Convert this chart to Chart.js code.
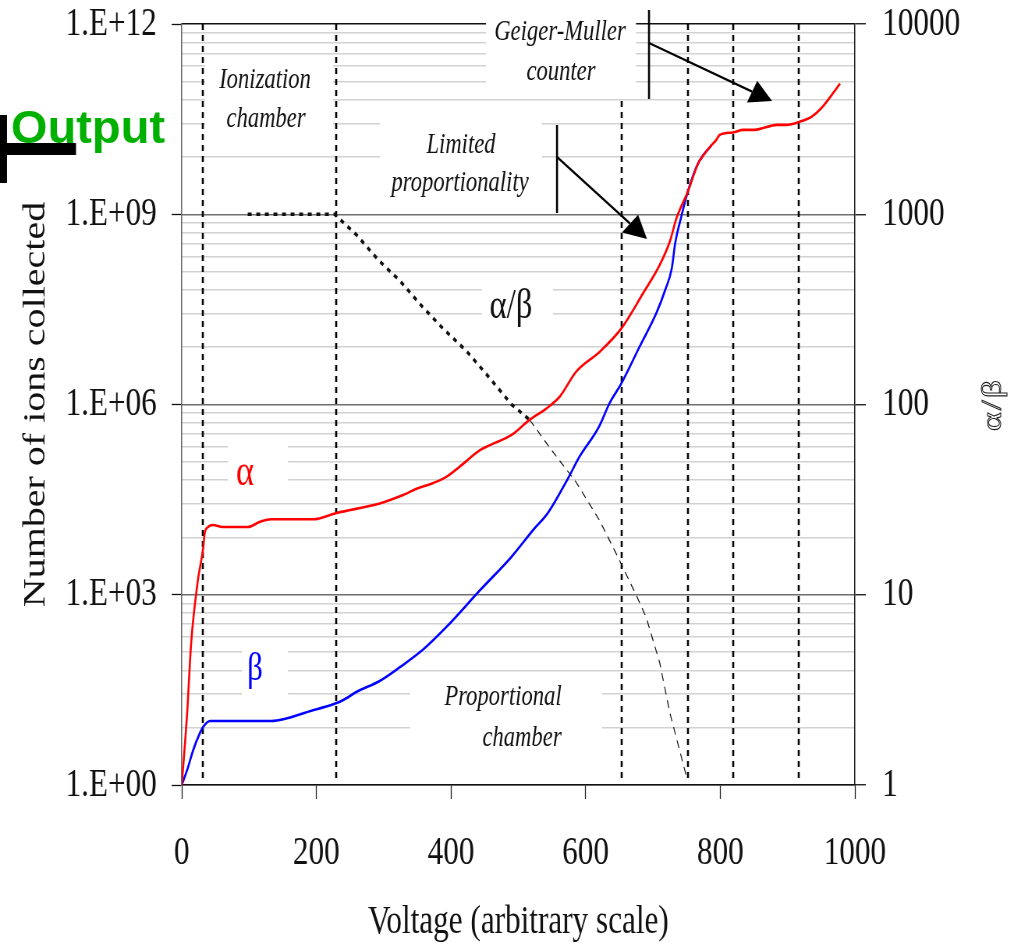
<!DOCTYPE html>
<html>
<head>
<meta charset="utf-8">
<title>Ions collected vs voltage</title>
<script src="https://cdn.jsdelivr.net/npm/chart.js@4.4.1/dist/chart.umd.min.js"></script>
<style>
  html, body { margin: 0; padding: 0; background: #fff; overflow: hidden; }
  /* the whole drawing is set in a narrow face, so the canvas is squeezed sideways */
  #holder { position: absolute; left: 0; top: 0; width: 1305px; height: 948px;
            transform: scaleX(0.78); transform-origin: 0 0; }
</style>
</head>
<body>
<div id="holder"><canvas id="chart" width="1305" height="948"></canvas></div>
<script>
'use strict';
// alpha particles: voltage vs number of ions collected
var alphaVolts = [0, 8, 14, 24, 32, 34, 39, 46, 61, 98, 116, 133, 195, 230, 294, 326, 349, 373, 393, 413,
  443, 458, 490, 517, 542, 562, 586, 621, 653, 685, 710, 725, 735, 752, 767, 777, 787, 794, 799, 819,
  834, 851, 884, 898, 918, 936, 950, 978];
var alphaIons = [1, 13.5, 174, 1700, 5600, 9300, 1.17e4, 1.26e4, 1.17e4, 1.17e4, 1.41e4, 1.55e4, 1.55e4,
  1.95e4, 2.75e4, 3.63e4, 4.68e4, 5.75e4, 7.24e4, 1.05e5, 1.91e5, 2.29e5, 3.31e5, 5.75e5, 8.7e5, 1.35e6,
  3.3e6, 6.8e6, 1.58e7, 5.6e7, 1.58e8, 3.7e8, 8.7e8, 2.3e9, 6.3e9, 9.1e9, 1.23e10, 1.48e10, 1.78e10,
  1.95e10, 2.14e10, 2.14e10, 2.57e10, 2.57e10, 2.88e10, 3.47e10, 4.68e10, 1.15e11];
// beta particles
var betaVolts = [0, 9, 17, 27, 32, 42, 133, 195, 227, 240, 260, 294, 324, 359, 393, 443, 490, 522, 544,
  574, 591, 619, 636, 653, 680, 705, 718, 728, 733, 742, 752, 767, 787];
var betaIons = [1, 1.86, 3.55, 6.6, 8.3, 10.2, 10.2, 15.1, 19.1, 21.9, 29.5, 43.7, 72, 138, 309, 1175,
  3980, 1.05e4, 1.95e4, 6.9e4, 1.51e5, 4.3e5, 1.07e6, 2.14e6, 8.1e6, 2.75e7, 6.3e7, 1.41e8, 3.5e8,
  9.1e8, 2.3e9, 6.3e9, 1.23e10];
// alpha/beta ratio, right hand axis
var ratioVolts = [98, 227, 260, 292, 324, 356, 388, 423, 455, 490, 517, 547, 586, 621, 651, 676, 690,
  710, 725, 750];
var ratioValues = [1000, 1000, 776, 575, 447, 331, 251, 191, 141, 100, 83, 59, 39, 24.5, 15, 9.8, 7.6,
  4.4, 2.4, 1.1];

var voltTicks = [0, 200, 400, 600, 800, 1000];
var voltTickLabels = ['0', '200', '400', '600', '800', '1000'];
var ionTickValues = [1, 1e3, 1e6, 1e9, 1e12];
var ionTickLabels = ['1.E+00', '1.E+03', '1.E+06', '1.E+09', '1.E+12'];
var ratioTickValues = [1, 10, 100, 1000, 10000];
var ratioTickLabels = ['1', '10', '100', '1000', '10000'];
// voltages where one operating region hands over to the next
var boundaryVolts = [31, 229, 654, 752, 819, 917];

var SQUEEZE = 0.78;
var CANVAS_W = 1305;
function cx(x) { return x / SQUEEZE; } // page x -> canvas x

// white patches behind the region names (page pixels)
var labelBoxes = [
  {x: 205, y: 58, w: 128, h: 80},
  {x: 486, y: 12, w: 150, h: 86},
  {x: 380, y: 108, w: 162, h: 96},
  {x: 228, y: 438, w: 60, h: 58},
  {x: 242, y: 642, w: 46, h: 62},
  {x: 410, y: 680, w: 192, h: 78},
  {x: 482, y: 278, w: 71, h: 62}
];
var ITALIC = 'italic 29px "Liberation Serif"';
var labelTexts = [
  {text: 'Ionization', x: 265, y: 88, font: ITALIC, color: '#111'},
  {text: 'chamber', x: 266, y: 127, font: ITALIC, color: '#111'},
  {text: 'Geiger-Muller', x: 560, y: 40, font: ITALIC, color: '#111'},
  {text: 'counter', x: 561, y: 80, font: ITALIC, color: '#111'},
  {text: 'Limited', x: 461, y: 153, font: ITALIC, color: '#111'},
  {text: 'proportionality', x: 460, y: 191, font: ITALIC, color: '#111'},
  {text: 'Proportional', x: 503, y: 705, font: ITALIC, color: '#111'},
  {text: 'chamber', x: 522, y: 746, font: ITALIC, color: '#111'},
  {text: 'α/β', x: 511, y: 318, font: '42px "Liberation Serif"', color: '#111'},
  {text: 'α', x: 245, y: 485, font: '44px "Liberation Serif"', color: '#ff0000'},
  {text: 'β', x: 255, y: 680, font: '40px "Liberation Serif"', color: '#0000ff'}
];
// pointer arrows: a short upright stem, then a shaft to the tip
var arrows = [
  {stem: [649, 10, 99], from: [649, 43], tip: [772, 101], len: 22, half: 12},
  {stem: [557, 125, 213], from: [557, 157], tip: [647, 239], len: 23, half: 12}
];

function points(xs, ys) {
  return xs.map(function (x, i) { return {x: x, y: ys[i]}; });
}

var ratioTicks = [];
ratioTickValues.forEach(function (decade, i) {
  ratioTicks.push({value: decade, major: true});
  if (i < ratioTickValues.length - 1) {
    for (var m = 2; m <= 9; m++) {
      ratioTicks.push({value: decade * m, major: false});
    }
  }
});

var regionPlugin = {
  id: 'regions',
  beforeDatasetsDraw: function (chart) {
    var ctx = chart.ctx;
    var area = chart.chartArea;
    var xs = chart.scales.x;
    ctx.save();
    ctx.strokeStyle = '#000';
    ctx.lineWidth = 2.6;
    ctx.setLineDash([6, 5]);
    boundaryVolts.forEach(function (v) {
      var px = Math.round(xs.getPixelForValue(v));
      ctx.beginPath();
      ctx.moveTo(px, area.top);
      ctx.lineTo(px, area.bottom - 3);
      ctx.stroke();
    });
    ctx.setLineDash([]);

    ctx.fillStyle = '#fff';
    labelBoxes.forEach(function (b) {
      ctx.fillRect(cx(b.x), b.y, cx(b.w), b.h);
    });

    ctx.textAlign = 'center';
    ctx.textBaseline = 'alphabetic';
    labelTexts.forEach(function (t) {
      ctx.font = t.font;
      ctx.fillStyle = t.color;
      ctx.fillText(t.text, cx(t.x), t.y);
    });

    ctx.strokeStyle = '#000';
    ctx.fillStyle = '#000';
    arrows.forEach(function (a) {
      ctx.lineWidth = 2.6;
      ctx.beginPath();
      ctx.moveTo(cx(a.stem[0]), a.stem[1]);
      ctx.lineTo(cx(a.stem[0]), a.stem[2]);
      ctx.stroke();
      var dx = a.tip[0] - a.from[0], dy = a.tip[1] - a.from[1];
      var d = Math.sqrt(dx * dx + dy * dy);
      var ux = dx / d, uy = dy / d;
      var bx = a.tip[0] - ux * a.len, by = a.tip[1] - uy * a.len;
      ctx.lineWidth = 2.3;
      ctx.beginPath();
      ctx.moveTo(cx(a.from[0]), a.from[1]);
      ctx.lineTo(cx(bx), by);
      ctx.stroke();
      ctx.beginPath();
      ctx.moveTo(cx(a.tip[0]), a.tip[1]);
      ctx.lineTo(cx(bx - uy * a.half), by + ux * a.half);
      ctx.lineTo(cx(bx + uy * a.half), by - ux * a.half);
      ctx.closePath();
      ctx.fill();
    });
    ctx.restore();
  },
  afterDraw: function (chart) {
    var ctx = chart.ctx;
    var area = chart.chartArea;
    ctx.save();
    // right axis name, reading upwards, in outline
    ctx.translate(cx(993), (area.top + area.bottom) / 2);
    ctx.rotate(-Math.PI / 2);
    ctx.font = '36px "Liberation Serif"';
    ctx.letterSpacing = '2px';
    ctx.textAlign = 'center';
    ctx.textBaseline = 'middle';
    ctx.strokeStyle = '#222';
    ctx.lineWidth = 1.1;
    ctx.strokeText('α/β', 0, 0);
    ctx.restore();

    // "Output" tag top left, kept at its natural width
    ctx.save();
    ctx.fillStyle = '#000';
    ctx.fillRect(0, 115, cx(7), 68);
    ctx.fillRect(0, 143, cx(76), 12);
    ctx.translate(cx(11), 143);
    ctx.scale(1 / SQUEEZE, 1);
    ctx.font = 'bold 47px "Liberation Sans"';
    ctx.fillStyle = '#00b000';
    ctx.textAlign = 'left';
    ctx.textBaseline = 'alphabetic';
    ctx.fillText('Output', 0, 0);
    ctx.restore();
  }
};

Chart.defaults.font.family = '"Liberation Serif"';
Chart.defaults.color = '#111';

var tickFont = {family: '"Liberation Serif"', size: 40};

new Chart(document.getElementById('chart').getContext('2d'), {
  type: 'line',
  data: {
    datasets: [
      {
        label: 'α',
        data: points(alphaVolts, alphaIons),
        yAxisID: 'yIons',
        borderColor: '#ff0000',
        borderWidth: 2.6,
        pointRadius: 0,
        cubicInterpolationMode: 'monotone',
        order: 1
      },
      {
        label: 'β',
        data: points(betaVolts, betaIons),
        yAxisID: 'yIons',
        borderColor: '#0000ff',
        borderWidth: 2.6,
        pointRadius: 0,
        cubicInterpolationMode: 'monotone',
        order: 2
      },
      {
        label: 'α/β',
        data: points(ratioVolts, ratioValues),
        yAxisID: 'yRatio',
        borderColor: '#111',
        pointRadius: 0,
        order: 3,
        segment: {
          borderWidth: function (c) { return c.p0.parsed.x >= 517 ? 1.2 : 3.5; },
          borderDash: function (c) { return c.p0.parsed.x >= 517 ? [8, 6] : [5, 6]; }
        }
      }
    ]
  },
  options: {
    responsive: false,
    devicePixelRatio: 1,
    animation: false,
    layout: {padding: {top: 24, left: 0, right: 0, bottom: 0}},
    plugins: {legend: {display: false}, tooltip: {enabled: false}},
    scales: {
      x: {
        type: 'linear',
        min: 0,
        max: 1000,
        afterBuildTicks: function (axis) {
          axis.ticks = voltTicks.map(function (v) { return {value: v}; });
        },
        afterFit: function (axis) {
          axis.height = 163;
          axis.paddingLeft = 0;
          axis.paddingRight = 0;
        },
        ticks: {
          font: tickFont,
          padding: 30,
          autoSkip: false,
          maxRotation: 0,
          callback: function (value) { return voltTickLabels[voltTicks.indexOf(value)]; }
        },
        grid: {drawOnChartArea: false, tickLength: 14, tickColor: '#222', tickWidth: 1.3},
        border: {color: '#111', width: 1.5},
        title: {
          display: true,
          text: 'Voltage (arbitrary scale)',
          font: {family: '"Liberation Serif"', size: 40},
          padding: {top: 0, bottom: 2}
        }
      },
      yIons: {
        type: 'logarithmic',
        position: 'left',
        min: 1,
        max: 1e12,
        afterBuildTicks: function (axis) {
          axis.ticks = ionTickValues.map(function (v) { return {value: v, major: true}; });
        },
        afterFit: function (axis) {
          axis.width = 233;
          axis.paddingTop = 0;
          axis.paddingBottom = 0;
        },
        ticks: {
          font: tickFont,
          padding: 19,
          autoSkip: false,
          callback: function (value) { return ionTickLabels[ionTickValues.indexOf(value)]; }
        },
        grid: {drawOnChartArea: false, tickLength: 13, tickColor: '#111', tickWidth: 1.3},
        border: {color: '#666', width: 1.5},
        title: {
          display: true,
          text: 'Number of ions collected',
          font: {family: '"Liberation Serif"', size: 40},
          padding: {top: 22, bottom: 0}
        }
      },
      yRatio: {
        type: 'logarithmic',
        position: 'right',
        min: 1,
        max: 10000,
        afterBuildTicks: function (axis) {
          axis.ticks = ratioTicks.map(function (t) { return {value: t.value, major: t.major}; });
        },
        afterFit: function (axis) {
          axis.width = CANVAS_W - 1096;
          axis.paddingTop = 0;
          axis.paddingBottom = 0;
        },
        ticks: {
          font: tickFont,
          padding: 21,
          autoSkip: false,
          callback: function (value) {
            var k = ratioTickValues.indexOf(value);
            return k >= 0 ? ratioTickLabels[k] : '';
          }
        },
        grid: {
          tickLength: 14,
          lineWidth: 1.5,
          color: function (c) {
            if (!c.tick) return '#d2d2d2';
            if (c.tick.value === 10000) return '#111';
            return c.tick.major ? '#6e6e6e' : '#d2d2d2';
          },
          tickColor: function (c) {
            return c.tick && c.tick.major ? '#111' : 'rgba(0,0,0,0)';
          },
          tickWidth: 1.3
        },
        border: {color: '#222', width: 1.5},
        title: {display: false}
      }
    }
  },
  plugins: [regionPlugin]
});
</script>
</body>
</html>
